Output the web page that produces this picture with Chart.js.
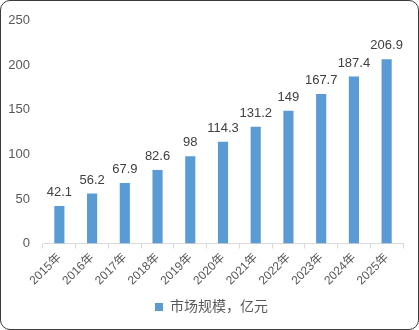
<!DOCTYPE html>
<html>
<head>
<meta charset="utf-8">
<script src="https://cdn.jsdelivr.net/npm/chart.js@4"></script>
<style>
  html, body { margin: 0; padding: 0; background: #fff; }
  #wrap { position: relative; width: 419px; height: 330px; }
  #frame {
    position: absolute; left: 0; top: 0; width: 419px; height: 330px;
    box-sizing: border-box; border: 1px solid #3a3a3a; border-radius: 10px;
    pointer-events: none;
  }
</style>
</head>
<body>
<div id="wrap">
  <canvas id="grafico" width="419" height="330"></canvas>
  <div id="frame"></div>
</div>
<script>
/* datos */
const anios = ['2015年','2016年','2017年','2018年','2019年','2020年','2021年','2022年','2023年','2024年','2025年'];
const mercado = [42.1, 56.2, 67.9, 82.6, 98, 114.3, 131.2, 149, 167.7, 187.4, 206.9];
const serieLabel = '市场规模，亿元';
const yTicks = [0, 50, 100, 150, 200, 250];

const FUENTE = '"Liberation Sans", "Noto Sans CJK SC", sans-serif';

// etiquetas encima de cada barra
const etiquetasBarras = {
    id: 'etiquetasBarras',
    afterLayout(chart) {
        // leyenda un poco a la derecha, como en el original
        chart.legend.left += 20;
    },
    afterDatasetsDraw(chart) {
        const ctx = chart.ctx;
        const meta = chart.getDatasetMeta(0);
        ctx.save();
        ctx.font = '13px ' + FUENTE;
        ctx.fillStyle = '#404040';
        ctx.textAlign = 'center';
        ctx.textBaseline = 'bottom';
        meta.data.forEach((bar, i) => {
            ctx.fillText(String(mercado[i]), bar.x, bar.y - 7);
        });
        ctx.restore();
    }
};

new Chart(document.getElementById('grafico').getContext('2d'), {
    type: 'bar',
    data: {
        labels: anios,
        datasets: [{
            label: serieLabel,
            data: mercado,
            backgroundColor: '#5b9bd5',
            barPercentage: 0.31,
            categoryPercentage: 1
        }]
    },
    options: {
        responsive: false,
        animation: false,
        layout: { padding: { top: 10, right: 16, left: 0, bottom: 6 } },
        plugins: {
            legend: {
                position: 'bottom',
                labels: {
                    boxWidth: 8, boxHeight: 8, padding: 6,
                    color: '#595959',
                    font: { size: 14, family: FUENTE }
                }
            },
            tooltip: { enabled: false }
        },
        scales: {
            x: {
                grid: { display: true, drawOnChartArea: false, offset: true, color: '#d9d9d9', tickLength: 5 },
                border: { color: '#d9d9d9' },
                ticks: {
                    color: '#595959', minRotation: 45, maxRotation: 45, padding: 2,
                    font: { size: 12, family: FUENTE }
                },
                afterFit: s => { s.height = 50.5; }
            },
            y: {
                min: 0, max: 250,
                afterBuildTicks: s => { s.ticks = yTicks.map(v => ({ value: v })); },
                grid: { display: false, drawTicks: false },
                border: { display: false },
                ticks: { color: '#595959', padding: 13, font: { size: 13, family: FUENTE } },
                afterFit: s => { s.width = 43; }
            }
        }
    },
    plugins: [etiquetasBarras]
});
</script>
</body>
</html>
